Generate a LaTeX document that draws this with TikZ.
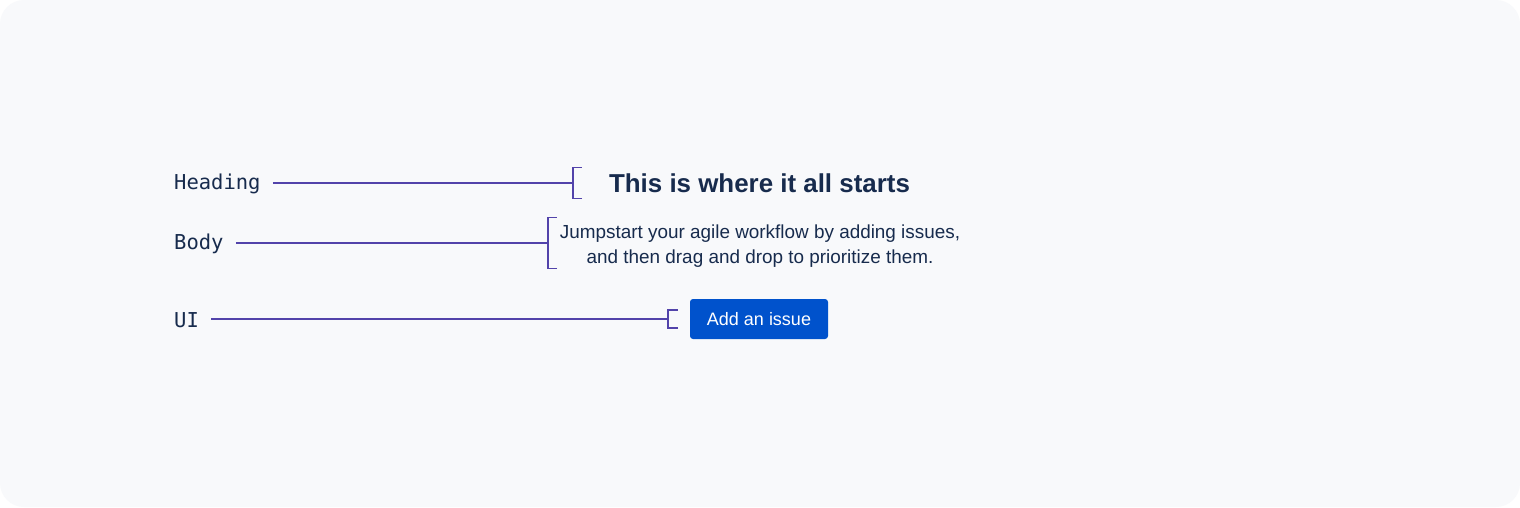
\documentclass[tikz,border=0pt]{standalone}
\usepackage{fontspec}
\setmainfont{Liberation Sans}
\setmonofont{DejaVu Sans Mono}
\definecolor{bgc}{HTML}{F8F9FB}
\definecolor{ink}{HTML}{172B4D}
\definecolor{lnc}{HTML}{5243AA}
\definecolor{btn}{HTML}{0052CC}
\begin{document}
\begin{tikzpicture}[x=1pt,y=-1pt,
  lab/.style={anchor=west,inner sep=0pt,font=\ttfamily\fontsize{20.5}{24}\selectfont,text=ink},
  conn/.style={draw=lnc,line width=1.1pt},
  brk/.style={draw=lnc,line width=1.1pt}]
\useasboundingbox (0,0) rectangle (1520,507);
\fill[white] (0,0) rectangle (1520,507);
\fill[bgc,rounded corners=24pt] (0,0) rectangle (1520,507);
% labels
\node[lab] (hl) at (174,184) {Heading};
\node[lab] (bl) at (174,244) {Body};
\node[lab] (ul) at (174,320) {UI};
% bracket coordinates
\coordinate (hb) at (573,183);
\coordinate (bb) at (548,243);
\coordinate (ub) at (668,319);
% connectors
\draw[conn] ([xshift=12pt]hl.east |- hb) -- (hb);
\draw[conn] ([xshift=12pt]bl.east |- bb) -- (bb);
\draw[conn] ([xshift=12pt]ul.east |- ub) -- (ub);
% brackets
\draw[brk] ([xshift=9pt,yshift=-15.5pt]hb) -| ([yshift=15.5pt]hb) -- ([xshift=9pt,yshift=15.5pt]hb);
\draw[brk] ([xshift=9pt,yshift=-25.5pt]bb) -| ([yshift=25.5pt]bb) -- ([xshift=9pt,yshift=25.5pt]bb);
\draw[brk] ([xshift=10pt,yshift=-9pt]ub) -| ([yshift=9pt]ub) -- ([xshift=10pt,yshift=9pt]ub);
% content
\node[text=ink,font=\bfseries\fontsize{25.9}{30}\selectfont,inner sep=0pt] (ht) at (759.5,183) {This is where it all starts};
\node[text=ink,font=\fontsize{18.9}{25}\selectfont,align=center,inner sep=0pt] (bt) at (760,246) {Jumpstart your agile workflow by adding issues,\\and then drag and drop to prioritize them.};
\node[fill=btn,rounded corners=3pt,minimum width=138pt,minimum height=40pt,inner sep=0pt,text=white,font=\fontsize{18}{22}\selectfont] (bu) at (759,319) {Add an issue};
\end{tikzpicture}
\end{document}
